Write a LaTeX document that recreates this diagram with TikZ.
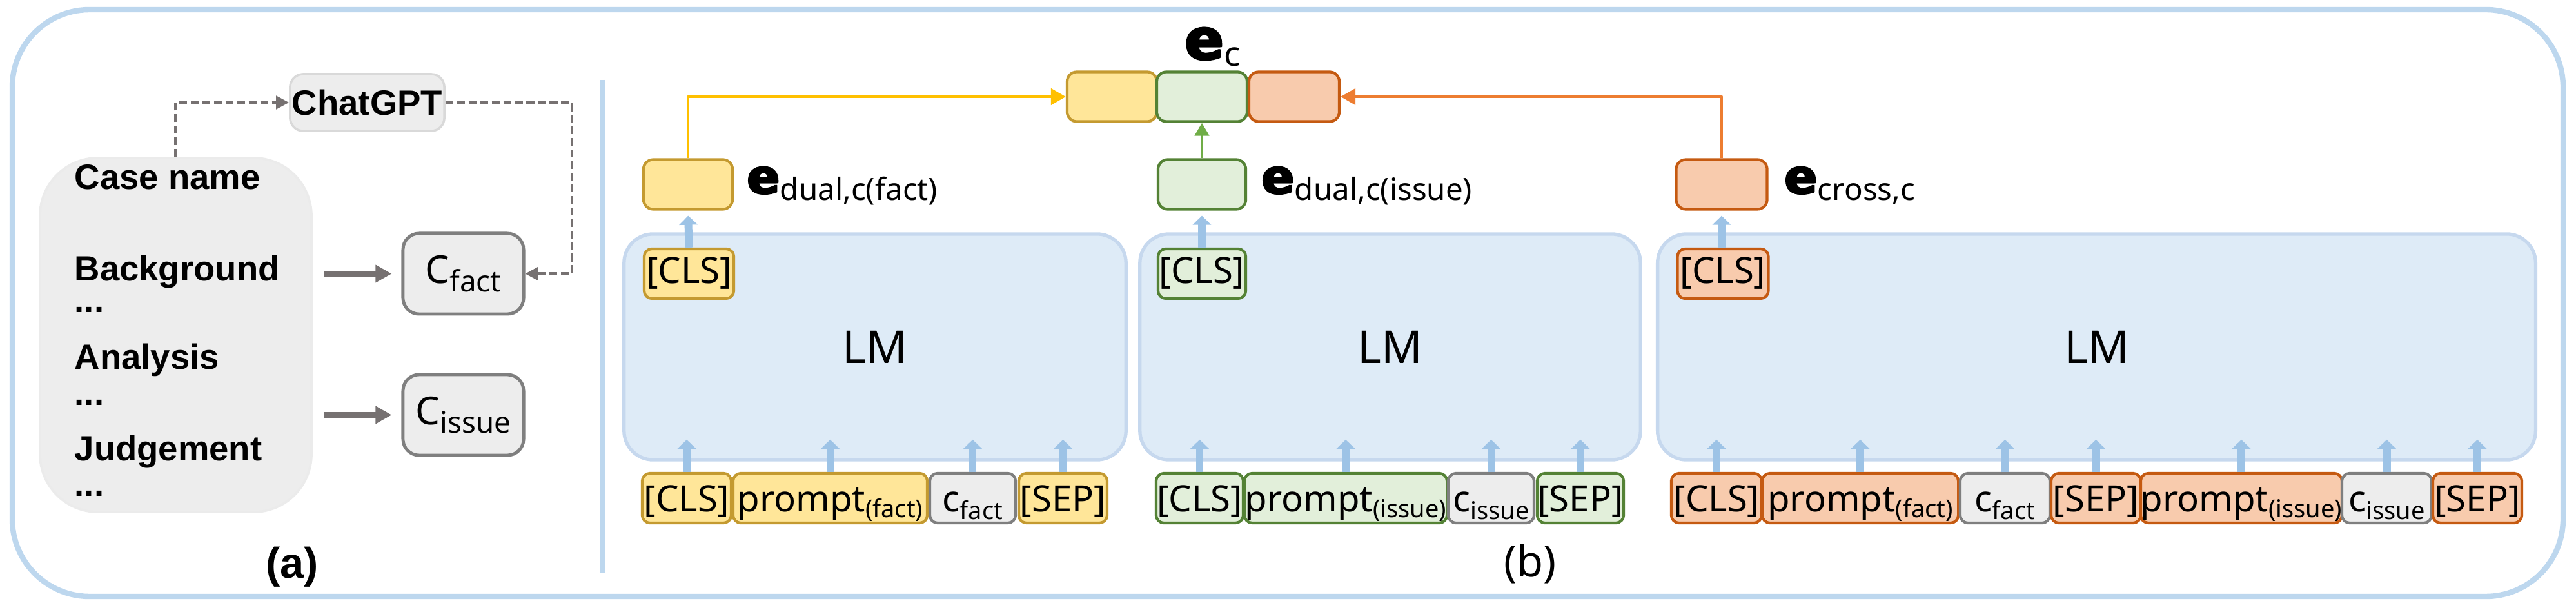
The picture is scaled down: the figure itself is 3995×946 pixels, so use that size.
\documentclass[tikz,border=0pt]{standalone}
\usepackage{fontspec}
\setmainfont{Noto Sans}
\newfontfamily\heavyfont{DejaVu Sans}[BoldFeatures={FakeBold=2.5}]
\newfontfamily\boldfont{Liberation Sans}
\usetikzlibrary{arrows.meta,calc}
\definecolor{framec}{HTML}{BDD7EE}
\definecolor{lmfill}{HTML}{DEEBF7}
\definecolor{lmdraw}{HTML}{C6D8EE}
\definecolor{yfill}{HTML}{FFE699}
\definecolor{ydraw}{HTML}{C49A30}
\definecolor{gfill}{HTML}{E2EFDA}
\definecolor{gdraw}{HTML}{548235}
\definecolor{ofill}{HTML}{F8CBAD}
\definecolor{odraw}{HTML}{C55A11}
\definecolor{tfill}{HTML}{EDEDED}
\definecolor{tdraw}{HTML}{7F7F7F}
\definecolor{garrowc}{HTML}{767171}
\definecolor{barrowc}{HTML}{9DC3E6}
\definecolor{ylinec}{HTML}{FFC000}
\definecolor{glinec}{HTML}{70AD47}
\definecolor{olinec}{HTML}{ED7D31}
\newcommand\fs[1]{\fontsize{#1}{#1}\selectfont}
\newcommand\tsub[2]{\raisebox{-#1}{\fs{10.8}#2}}
\newcommand\heavye[1]{{\fs{#1}\heavyfont\bfseries\makebox[0pt][l]{e}\hspace{0.6pt}e}}
\newcommand\elab[3]{\heavye{#1}\raisebox{-3pt}{\fs{#2}#3}}
\begin{document}
\begin{tikzpicture}[x=0.01cm,y=-0.01cm,line join=round,
  tok/.style={rounded corners=0.12cm, line width=1.2pt, inner sep=0pt,
    text height=0.6cm, text depth=0.17cm, anchor=base, font=\fs{16}},
  ytok/.style={tok, fill=yfill, draw=ydraw},
  gtok/.style={tok, fill=gfill, draw=gdraw},
  otok/.style={tok, fill=ofill, draw=odraw},
  ctok/.style={tok, fill=tfill, draw=tdraw},
  clstop/.style={text height=0.54cm, text depth=0.23cm},
  ebox/.style={rounded corners=0.15cm, line width=1.2pt, inner sep=0pt, minimum height=0.77cm},
  lmbox/.style={rounded corners=0.45cm, fill=lmfill, draw=lmdraw, line width=1.5pt,
    inner sep=0pt, minimum height=3.5cm, font=\fs{20}},
  upblue/.style={draw=barrowc, line width=3.4pt, -{Triangle[length=0.14cm,width=0.28cm]}},
  ylink/.style={draw=ylinec, line width=1.3pt, -{Triangle[length=0.23cm,width=0.25cm]}},
  glink/.style={draw=glinec, line width=1.3pt, -{Triangle[length=0.2cm,width=0.22cm]}},
  olink/.style={draw=olinec, line width=1.3pt, -{Triangle[length=0.23cm,width=0.25cm]}},
  dasharrow/.style={draw=garrowc, line width=1.3pt, dash pattern=on 3.5pt off 1.6pt,
    -{Triangle[length=0.2cm,width=0.2cm]}},
  solidarrow/.style={draw=garrowc, line width=2.4pt, -{Triangle[length=0.25cm,width=0.26cm]}},
  graybox/.style={fill=tfill, inner sep=0pt},
  casetext/.style={anchor=base west, inner sep=0pt, font=\fs{15.5}\boldfont\bfseries},
  elabel/.style={anchor=base west, inner sep=0pt}
]
\useasboundingbox (0,0) rectangle (3995,946);
% outer frame
\draw[draw=framec, line width=2.4pt, rounded corners=1.2cm] (19,15) rectangle (3975,925);
\draw[draw=framec, line width=2pt] (934,124) -- (934,888);

% ---------------- part (a)
\node[graybox, draw=black!8, line width=1pt, rounded corners=0.9cm,
  minimum width=4.21cm, minimum height=5.49cm] (case) at (272.5,519.5) {};
\node[casetext] (t_case) at (115,294) {Case name};
\node[casetext] (t_back) at (115,436) {Background};
\node[casetext] (d1) at (115,485) {...};
\node[casetext] (t_ana) at (115,573) {Analysis};
\node[casetext] (d2) at (115,629) {...};
\node[casetext] (t_judge) at (115,715) {Judgement};
\node[casetext] (d3) at (115,770) {...};

\node[graybox, draw=black!15, line width=1pt, rounded corners=0.2cm,
  minimum width=2.39cm, minimum height=0.88cm, font=\fs{15.5}\boldfont\bfseries] (chat) at (569.5,159) {ChatGPT};
\node[graybox, draw=tdraw, line width=1.4pt, rounded corners=0.25cm,
  minimum width=1.87cm, minimum height=1.25cm] (cfact) at (718.5,424.5)
  {{\fs{17}C}\raisebox{-3.5pt}{\fs{13}fact}};
\node[graybox, draw=tdraw, line width=1.4pt, rounded corners=0.25cm,
  minimum width=1.87cm, minimum height=1.25cm] (cissue) at (718.5,643.5)
  {{\fs{17}C}\raisebox{-3.5pt}{\fs{13}issue}};

\draw[dasharrow] (case.north) |- (chat.west);
\draw[dasharrow] (chat.east) -- ++(196,0) |- (cfact.east);
\draw[solidarrow, shorten <=0.17cm, shorten >=0.15cm] (case.east |- cfact.west) -- (cfact.west);
\draw[solidarrow, shorten <=0.17cm, shorten >=0.15cm] (case.east |- cissue.west) -- (cissue.west);

\node[font=\fs{19}\boldfont\bfseries] (la) at (453,879) {(a)};

% ---------------- part (b)
\node[lmbox, minimum width=7.78cm] (lm1) at (1357,538) {LM};
\node[lmbox, minimum width=7.76cm] (lm2) at (2156,538) {LM};
\node[lmbox, minimum width=13.61cm] (lm3) at (3251.5,538) {LM};

% CLS on top of LMs
\node[ytok, clstop, minimum width=1.39cm] (c1) at (1068.5,440) {[CLS]};
\node[gtok, clstop, minimum width=1.36cm] (c2) at (1864,440) {[CLS]};
\node[otok, clstop, minimum width=1.41cm] (c3) at (2672,440) {[CLS]};

% embedding boxes
\node[ebox, fill=yfill, draw=ydraw, minimum width=1.38cm] (ef) at (1067,286) {};
\node[ebox, fill=gfill, draw=gdraw, minimum width=1.36cm] (ei) at (1864,286) {};
\node[ebox, fill=ofill, draw=odraw, minimum width=1.41cm] (ex) at (2670,286) {};

\node[elabel] (lef) at (1157,300) {\elab{21}{13.5}{dual,c(fact)}};
\node[elabel] (lei) at (1955,300) {\elab{21}{13.5}{dual,c(issue)}};
\node[elabel] (lex) at (2766,300) {\elab{21}{13.5}{cross,c}};

% e_c
\node[ebox, fill=yfill, draw=ydraw, minimum width=1.39cm] (ecy) at (1724.5,150) {};
\node[ebox, fill=gfill, draw=gdraw, minimum width=1.40cm] (ecg) at (1864,150) {};
\node[ebox, fill=ofill, draw=odraw, minimum width=1.40cm] (eco) at (2007,150) {};
\node[elabel] (lec) at (1836,92) {\heavye{25}\raisebox{-3pt}{\fs{15}c}};

\draw[upblue, shorten >=0.08cm] (c1.north) -- (ef.south);
\draw[upblue, shorten >=0.08cm] (c2.north) -- (ei.south);
\draw[upblue, shorten >=0.08cm] (c3.north -| ex.south) -- (ex.south);

\draw[ylink] (ef.north) |- (ecy.west);
\draw[glink] (ei.north) -- (ecg.south);
\draw[olink] (ex.north) |- (eco.east);

% token rows
\node[ytok, minimum width=1.38cm] (t1a) at (1065,794) {[CLS]};
\node[ytok, minimum width=3.01cm] (t1b) at (1287.5,794) {prompt\tsub{2.5pt}{(fact)}};
\node[ctok, minimum width=1.33cm] (t1c) at (1508.5,794) {c\tsub{3.4pt}{fact}};
\node[ytok, minimum width=1.37cm] (t1d) at (1648.5,794) {[SEP]};

\node[gtok, minimum width=1.35cm] (t2a) at (1860.5,794) {[CLS]};
\node[gtok, minimum width=3.14cm] (t2b) at (2087,794) {prompt\tsub{2.5pt}{(issue)}};
\node[ctok, minimum width=1.33cm] (t2c) at (2312.5,794) {c\tsub{3.4pt}{issue}};
\node[gtok, minimum width=1.34cm] (t2d) at (2451,794) {[SEP]};

\node[otok, minimum width=1.40cm] (t3a) at (2662,794) {[CLS]};
\node[otok, minimum width=3.04cm] (t3b) at (2885,794) {prompt\tsub{2.5pt}{(fact)}};
\node[ctok, minimum width=1.39cm] (t3c) at (3109.5,794) {c\tsub{3.4pt}{fact}};
\node[otok, minimum width=1.39cm] (t3d) at (3250.5,794) {[SEP]};
\node[otok, minimum width=3.12cm] (t3e) at (3476,794) {prompt\tsub{2.5pt}{(issue)}};
\node[ctok, minimum width=1.39cm] (t3f) at (3701.5,794) {c\tsub{3.4pt}{issue}};
\node[otok, minimum width=1.38cm] (t3g) at (3842,794) {[SEP]};

\foreach \t in {t1a,t1b,t1c,t1d,t2a,t2b,t2c,t2d,t3a,t3b,t3c,t3d,t3e,t3f,t3g}
  \draw[upblue] (\t.north) -- ++(0,-50);

\node[font=\fs{19}] (lb) at (2373,874) {(b)};
\end{tikzpicture}
\end{document}
